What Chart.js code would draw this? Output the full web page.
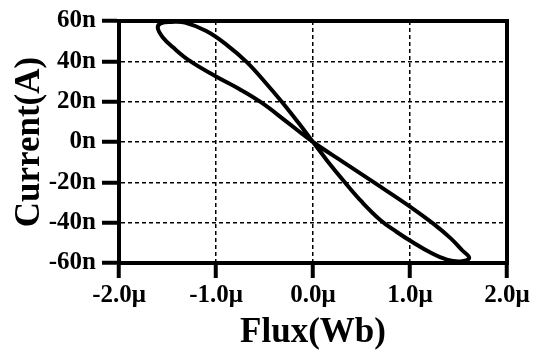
<!DOCTYPE html>
<html>
<head>
<meta charset="utf-8">
<script src="https://cdn.jsdelivr.net/npm/chart.js@4/dist/chart.umd.min.js"></script>
<style>
  html, body { margin: 0; padding: 0; background: #fff; }
  #wrap { width: 540px; height: 352px; }
</style>
</head>
<body>
<div id="wrap"><canvas id="c" width="540" height="352"></canvas></div>
<script>
// Flux in μWb, current in nA, traced as one closed loop
const fluxUWb = [
  0, 0.15, 0.33, 0.50, 0.69, 0.86, 1.02, 1.21, 1.38, 1.52, 1.61,
  1.54, 1.42, 1.24, 1.00, 0.64, 0.32, 0,
  -0.27, -0.53, -0.76, -1.00, -1.27, -1.44, -1.55, -1.60,
  -1.57, -1.46, -1.32, -1.10, -0.89, -0.68, -0.50, -0.32, -0.15, 0
];
const currentNA = [
  0, -9.5, -20.1, -29.5, -38.5, -44.5, -49.5, -54.8, -58.3, -59.2, -57.5,
  -53.8, -47.8, -40.5, -32, -20.4, -10.2, 0,
  10, 19.5, 26.3, 32.5, 40.2, 46.8, 52, 56.5,
  58.8, 59.5, 59.2, 55, 48.2, 39.5, 30, 19.8, 9.5, 0
];
const xTickLabels = ['-2.0μ', '-1.0μ', '0.0μ', '1.0μ', '2.0μ'];
const yTickLabels = ['-60n', '-40n', '-20n', '0n', '20n', '40n', '60n'];
const xTitle = 'Flux(Wb)';
const yTitle = 'Current(A)';

const points = fluxUWb.map((x, i) => ({ x: x, y: currentNA[i] }));

const frame = {
  id: 'frame',
  afterDraw(chart) {
    const a = chart.chartArea, ctx = chart.ctx;
    ctx.save();
    ctx.strokeStyle = '#000';
    ctx.lineWidth = 4;
    ctx.strokeRect(a.left, a.top, a.right - a.left, a.bottom - a.top);
    ctx.restore();
  }
};

const tickFont = { family: 'Liberation Serif', weight: 'bold', size: 25 };
const titleFont = { family: 'Liberation Serif', weight: 'bold', size: 35, lineHeight: 1 };

new Chart(document.getElementById('c'), {
  type: 'scatter',
  data: {
    datasets: [{
      data: points,
      showLine: true,
      borderColor: '#000',
      borderWidth: 4,
      pointRadius: 0,
      tension: 0.4,
      fill: false
    }]
  },
  options: {
    responsive: false,
    animation: false,
    devicePixelRatio: 1,
    layout: { padding: { top: 15, right: 33, left: 0, bottom: 0 } },
    plugins: { legend: { display: false }, tooltip: { enabled: false } },
    scales: {
      x: {
        type: 'linear',
        min: -2, max: 2,
        afterFit(s) { s.height = 89; },
        ticks: {
          stepSize: 1,
          color: '#000',
          font: tickFont,
          padding: 3,
          maxRotation: 0,
          callback: (v, i) => xTickLabels[i]
        },
        grid: {
          color: '#000',
          lineWidth: 1.5,
          tickLength: 15,
          tickWidth: 4,
          tickColor: '#000',
          tickBorderDash: []
        },
        border: { display: true, color: '#000', width: 4, dash: [4, 3] },
        title: { display: true, text: xTitle, color: '#000', font: titleFont, padding: { top: 0, bottom: 2 } }
      },
      y: {
        type: 'linear',
        min: -60, max: 60,
        afterFit(s) { s.width = 119; },
        ticks: {
          stepSize: 20,
          color: '#000',
          font: tickFont,
          padding: 6,
          callback: (v, i) => yTickLabels[i]
        },
        grid: {
          color: '#000',
          lineWidth: 1.5,
          tickLength: 17,
          tickWidth: 4,
          tickColor: '#000',
          tickBorderDash: []
        },
        border: { display: true, color: '#000', width: 4, dash: [4, 3] },
        title: { display: true, text: yTitle, color: '#000', font: titleFont, padding: { top: 12, bottom: 0 } }
      }
    }
  },
  plugins: [frame]
});
</script>
</body>
</html>
